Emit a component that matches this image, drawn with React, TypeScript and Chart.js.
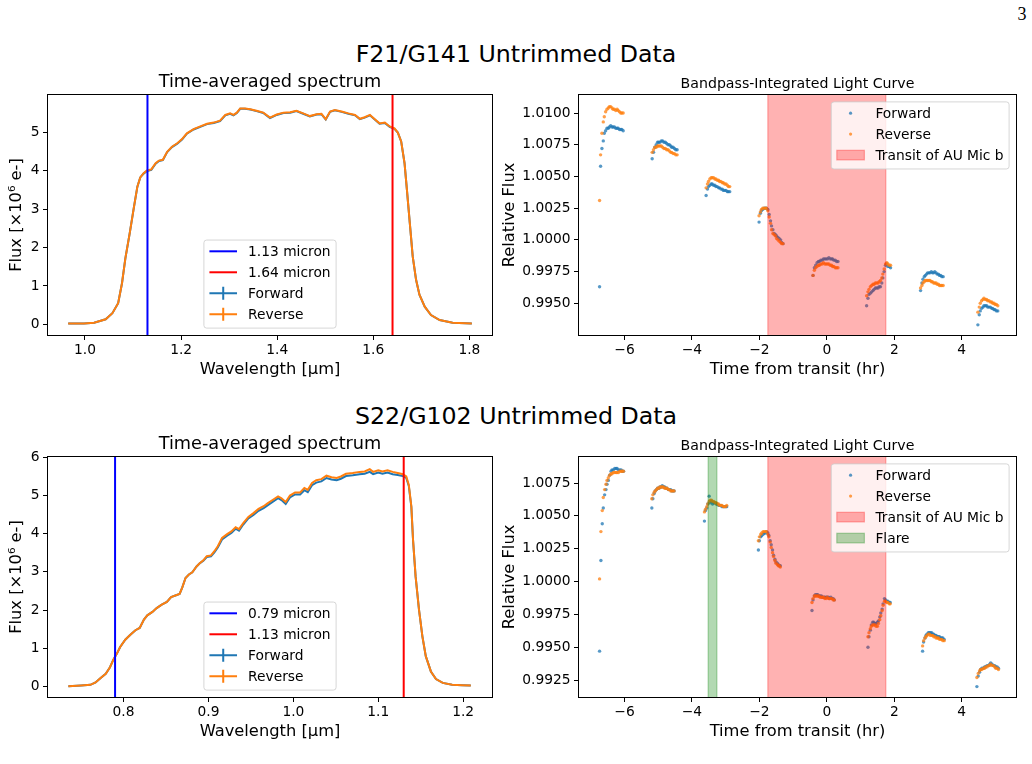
import React, { useEffect, useRef } from "react";
import { Chart, registerables } from "chart.js";

Chart.register(...registerables);

const FONT = "'DejaVu Sans', 'Noto Sans', sans-serif";
const BLUE = "#1f77b4";
const ORANGE = "#ff7f0e";
const BLUE_PT = "rgba(31,119,180,0.75)";
const ORANGE_PT = "rgba(255,127,14,0.75)";

// ---------------- F21 / G141 time-averaged spectrum ----------------
const G141_WAVELENGTH = [
  0.965, 0.998, 1.019, 1.043, 1.057, 1.069, 1.077, 1.084, 1.093, 1.102,
  1.109, 1.115, 1.122, 1.129, 1.138, 1.147, 1.154, 1.162, 1.171, 1.181,
  1.192, 1.202, 1.212, 1.226, 1.240, 1.254, 1.268, 1.281, 1.292, 1.302,
  1.309, 1.316, 1.323, 1.333, 1.344, 1.357, 1.371, 1.385, 1.399, 1.413,
  1.427, 1.440, 1.454, 1.468, 1.482, 1.492, 1.501, 1.510, 1.520, 1.534,
  1.548, 1.562, 1.572, 1.582, 1.593, 1.603, 1.613, 1.624, 1.634, 1.644,
  1.651, 1.658, 1.665, 1.670, 1.676, 1.682, 1.689, 1.696, 1.707, 1.720,
  1.738, 1.765, 1.805,
];
const G141_FORWARD = [
  0.02, 0.02, 0.04, 0.13, 0.29, 0.55, 1.07, 1.72, 2.37, 3.07,
  3.59, 3.83, 3.93, 4.00, 4.03, 4.19, 4.26, 4.28, 4.49, 4.62,
  4.71, 4.82, 4.97, 5.08, 5.15, 5.22, 5.25, 5.30, 5.45, 5.49,
  5.45, 5.51, 5.62, 5.62, 5.60, 5.56, 5.51, 5.38, 5.46, 5.51,
  5.52, 5.56, 5.49, 5.42, 5.47, 5.48, 5.34, 5.54, 5.58, 5.54,
  5.49, 5.45, 5.35, 5.39, 5.45, 5.34, 5.23, 5.25, 5.15, 5.10,
  5.00, 4.77, 4.20, 3.50, 2.63, 1.77, 1.16, 0.77, 0.46, 0.24,
  0.11, 0.04, 0.02,
];
const G141_REVERSE = [
  0.02, 0.02, 0.04, 0.13, 0.29, 0.55, 1.07, 1.72, 2.37, 3.07,
  3.59, 3.83, 3.94, 4.01, 4.04, 4.20, 4.27, 4.29, 4.50, 4.63,
  4.72, 4.83, 4.98, 5.09, 5.16, 5.23, 5.26, 5.31, 5.46, 5.50,
  5.46, 5.52, 5.63, 5.63, 5.61, 5.57, 5.52, 5.39, 5.47, 5.52,
  5.53, 5.57, 5.50, 5.43, 5.48, 5.49, 5.35, 5.55, 5.59, 5.55,
  5.50, 5.46, 5.36, 5.40, 5.46, 5.35, 5.24, 5.26, 5.16, 5.11,
  5.00, 4.77, 4.20, 3.50, 2.63, 1.77, 1.16, 0.77, 0.46, 0.24,
  0.11, 0.04, 0.02,
];
const G141_BAND = [1.13, 1.64];

// ---------------- S22 / G102 time-averaged spectrum ----------------
const G102_WAVELENGTH = [
  0.735, 0.750, 0.761, 0.767, 0.773, 0.779, 0.784, 0.788, 0.792, 0.796,
  0.802, 0.808, 0.814, 0.819, 0.824, 0.828, 0.834, 0.839, 0.845, 0.851,
  0.856, 0.861, 0.866, 0.869, 0.873, 0.877, 0.881, 0.886, 0.890, 0.894,
  0.898, 0.903, 0.907, 0.911, 0.916, 0.922, 0.927, 0.932, 0.936, 0.941,
  0.947, 0.953, 0.959, 0.965, 0.970, 0.976, 0.982, 0.986, 0.991, 0.996,
  1.002, 1.008, 1.013, 1.017, 1.022, 1.027, 1.033, 1.039, 1.045, 1.051,
  1.056, 1.062, 1.070, 1.078, 1.084, 1.090, 1.094, 1.100, 1.105, 1.111,
  1.117, 1.123, 1.129, 1.133, 1.136, 1.139, 1.141, 1.144, 1.148, 1.152,
  1.156, 1.162, 1.168, 1.176, 1.187, 1.199, 1.209,
];
const G102_FORWARD = [
  0.00, 0.02, 0.04, 0.10, 0.22, 0.33, 0.50, 0.70, 0.85, 1.03,
  1.22, 1.35, 1.47, 1.53, 1.75, 1.86, 1.95, 2.05, 2.14, 2.21,
  2.34, 2.38, 2.42, 2.58, 2.84, 2.93, 2.99, 3.14, 3.23, 3.29,
  3.39, 3.41, 3.51, 3.64, 3.85, 3.95, 4.02, 4.13, 4.08, 4.24,
  4.40, 4.49, 4.60, 4.67, 4.75, 4.84, 4.93, 4.88, 4.78, 4.95,
  5.03, 5.03, 5.14, 5.09, 5.27, 5.34, 5.37, 5.46, 5.42, 5.40,
  5.44, 5.51, 5.53, 5.56, 5.57, 5.62, 5.56, 5.60, 5.57, 5.60,
  5.56, 5.54, 5.51, 5.46, 5.25, 4.70, 3.83, 2.88, 2.01, 1.31,
  0.79, 0.39, 0.19, 0.09, 0.04, 0.03, 0.02,
];
const G102_REVERSE = [
  0.00, 0.02, 0.04, 0.10, 0.22, 0.33, 0.50, 0.70, 0.85, 1.03,
  1.22, 1.35, 1.47, 1.53, 1.75, 1.86, 1.95, 2.05, 2.14, 2.21,
  2.34, 2.38, 2.42, 2.58, 2.84, 2.93, 2.99, 3.14, 3.23, 3.30,
  3.41, 3.43, 3.54, 3.67, 3.89, 3.99, 4.06, 4.17, 4.12, 4.28,
  4.44, 4.54, 4.65, 4.72, 4.80, 4.89, 4.98, 4.93, 4.83, 5.00,
  5.08, 5.08, 5.20, 5.15, 5.33, 5.40, 5.43, 5.52, 5.48, 5.46,
  5.50, 5.57, 5.59, 5.62, 5.63, 5.69, 5.62, 5.66, 5.63, 5.66,
  5.62, 5.59, 5.56, 5.50, 5.28, 4.72, 3.84, 2.88, 2.01, 1.31,
  0.79, 0.39, 0.19, 0.09, 0.04, 0.03, 0.02,
];
const G102_BAND = [0.79, 1.13];

// ---------------- F21 bandpass-integrated light curve ----------------
const F21_TIME = [
  -6.74, -6.71, -6.67, -6.63, -6.60, -6.56, -6.52, -6.48, -6.45, -6.41, -6.37, -6.34, -6.30, -6.26, -6.22, -6.19, -6.15, -6.11, -6.08, -6.04,
  -5.18, -5.14, -5.10, -5.06, -5.02, -4.99, -4.95, -4.91, -4.87, -4.83, -4.79, -4.75, -4.71, -4.67, -4.63, -4.60, -4.56, -4.52, -4.48, -4.44,
  -3.58, -3.54, -3.51, -3.47, -3.43, -3.40, -3.36, -3.32, -3.29, -3.25, -3.21, -3.18, -3.14, -3.10, -3.07, -3.03, -2.99, -2.95, -2.92, -2.88,
  -2.01, -1.97, -1.94, -1.90, -1.86, -1.82, -1.79, -1.75, -1.71, -1.67, -1.64, -1.60, -1.56, -1.52, -1.49, -1.45, -1.41, -1.37, -1.34, -1.30,
  -0.41, -0.37, -0.33, -0.29, -0.25, -0.22, -0.18, -0.14, -0.10, -0.06, -0.02, 0.02, 0.06, 0.10, 0.14, 0.17, 0.21, 0.25, 0.29, 0.33,
  1.18, 1.22, 1.25, 1.29, 1.33, 1.37, 1.40, 1.44, 1.48, 1.52, 1.55, 1.59, 1.63, 1.66, 1.70, 1.74, 1.78, 1.81, 1.85, 1.89,
  2.78, 2.82, 2.85, 2.89, 2.92, 2.96, 2.99, 3.03, 3.06, 3.10, 3.13, 3.17, 3.20, 3.24, 3.27, 3.31, 3.34, 3.38, 3.41, 3.45,
  4.48, 4.52, 4.55, 4.59, 4.63, 4.66, 4.70, 4.74, 4.77, 4.81, 4.85, 4.89, 4.92, 4.96, 4.99, 5.03, 5.07,
];
const F21_FORWARD = [
  0.9963, 1.0058, 1.0072, 1.0078, 1.0084, 1.0086, 1.0088, 1.0088, 1.0089, 1.0090, 1.0089, 1.0089, 1.0089, 1.0088, 1.0088, 1.0088, 1.0087, 1.0087, 1.0087, 1.0086,
  1.0064, 1.0069, 1.0073, 1.0075, 1.0077, 1.0077, 1.0077, 1.0078, 1.0078, 1.0077, 1.0077, 1.0076, 1.0075, 1.0075, 1.0074, 1.0073, 1.0073, 1.0072, 1.0071, 1.0071,
  1.0035, 1.0040, 1.0042, 1.0043, 1.0044, 1.0044, 1.0043, 1.0043, 1.0042, 1.0042, 1.0041, 1.0041, 1.0040, 1.0040, 1.0039, 1.0039, 1.0039, 1.0038, 1.0038, 1.0038,
  1.0014, 1.0021, 1.0023, 1.0024, 1.0025, 1.0025, 1.0025, 1.0024, 1.0020, 1.0015, 1.0011, 1.0008, 1.0005, 1.0004, 1.0003, 1.0002, 1.0001, 1.0000, 0.9998, 0.9997,
  0.9972, 0.9978, 0.9980, 0.9982, 0.9983, 0.9983, 0.9984, 0.9984, 0.9985, 0.9985, 0.9985, 0.9985, 0.9986, 0.9985, 0.9985, 0.9985, 0.9984, 0.9984, 0.9983, 0.9983,
  0.9948, 0.9954, 0.9957, 0.9958, 0.9959, 0.9960, 0.9961, 0.9962, 0.9962, 0.9962, 0.9963, 0.9963, 0.9966, 0.9970, 0.9975, 0.9980, 0.9981, 0.9979, 0.9979, 0.9978,
  0.9960, 0.9966, 0.9969, 0.9971, 0.9972, 0.9973, 0.9974, 0.9974, 0.9974, 0.9975, 0.9974, 0.9974, 0.9975, 0.9974, 0.9973, 0.9973, 0.9972, 0.9972, 0.9971, 0.9971,
  0.9933, 0.9941, 0.9944, 0.9946, 0.9947, 0.9948, 0.9948, 0.9948, 0.9947, 0.9947, 0.9947, 0.9946, 0.9946, 0.9945, 0.9945, 0.9944, 0.9944,
];
const F21_REVERSE = [
  1.0031, 1.0067, 1.0084, 1.0093, 1.0097, 1.0101, 1.0103, 1.0104, 1.0105, 1.0105, 1.0104, 1.0103, 1.0103, 1.0102, 1.0103, 1.0102, 1.0101, 1.0100, 1.0100, 1.0100,
  1.0069, 1.0071, 1.0073, 1.0073, 1.0074, 1.0074, 1.0074, 1.0074, 1.0073, 1.0072, 1.0072, 1.0071, 1.0071, 1.0070, 1.0069, 1.0069, 1.0068, 1.0068, 1.0067, 1.0067,
  1.0041, 1.0044, 1.0046, 1.0048, 1.0049, 1.0049, 1.0049, 1.0048, 1.0048, 1.0047, 1.0047, 1.0046, 1.0046, 1.0045, 1.0045, 1.0044, 1.0044, 1.0043, 1.0042, 1.0042,
  1.0019, 1.0022, 1.0024, 1.0025, 1.0025, 1.0025, 1.0025, 1.0023, 1.0018, 1.0013, 1.0008, 1.0005, 1.0004, 1.0003, 1.0001, 1.0000, 0.9999, 0.9998, 0.9997, 0.9997,
  0.9972, 0.9976, 0.9978, 0.9979, 0.9980, 0.9980, 0.9981, 0.9981, 0.9982, 0.9981, 0.9981, 0.9981, 0.9981, 0.9980, 0.9980, 0.9979, 0.9979, 0.9978, 0.9978, 0.9978,
  0.9956, 0.9959, 0.9961, 0.9963, 0.9964, 0.9965, 0.9965, 0.9966, 0.9966, 0.9966, 0.9967, 0.9968, 0.9970, 0.9973, 0.9977, 0.9981, 0.9982, 0.9981, 0.9980, 0.9980,
  0.9962, 0.9964, 0.9966, 0.9967, 0.9968, 0.9968, 0.9968, 0.9968, 0.9968, 0.9967, 0.9967, 0.9966, 0.9966, 0.9966, 0.9965, 0.9965, 0.9964, 0.9964, 0.9964, 0.9964,
  0.9943, 0.9947, 0.9950, 0.9952, 0.9953, 0.9954, 0.9953, 0.9953, 0.9952, 0.9952, 0.9951, 0.9951, 0.9950, 0.9950, 0.9949, 0.9949, 0.9948,
];

// ---------------- S22 bandpass-integrated light curve ----------------
const S22_TIME = [
  -6.74, -6.70, -6.66, -6.63, -6.59, -6.55, -6.52, -6.48, -6.44, -6.40, -6.37, -6.33, -6.29, -6.25, -6.22, -6.18, -6.14, -6.10, -6.07, -6.03,
  -5.19, -5.16, -5.12, -5.09, -5.05, -5.02, -4.98, -4.95, -4.91, -4.88, -4.84, -4.81, -4.77, -4.74, -4.70, -4.67, -4.63, -4.60, -4.56, -4.53,
  -3.63, -3.60, -3.56, -3.53, -3.49, -3.46, -3.42, -3.39, -3.35, -3.32, -3.28, -3.25, -3.21, -3.18, -3.14, -3.11, -3.07, -3.04, -3.00, -2.97,
  -2.03, -2.00, -1.96, -1.93, -1.89, -1.86, -1.82, -1.79, -1.75, -1.72, -1.68, -1.65, -1.61, -1.58, -1.54, -1.51, -1.47, -1.44, -1.41, -1.38,
  -0.44, -0.41, -0.37, -0.34, -0.30, -0.27, -0.23, -0.20, -0.16, -0.13, -0.09, -0.06, -0.02, 0.01, 0.05, 0.08, 0.12, 0.15, 0.19, 0.22,
  1.22, 1.25, 1.29, 1.32, 1.36, 1.39, 1.43, 1.46, 1.50, 1.53, 1.57, 1.60, 1.64, 1.67, 1.71, 1.74, 1.78, 1.81, 1.85, 1.88,
  2.84, 2.87, 2.91, 2.94, 2.97, 3.01, 3.04, 3.07, 3.11, 3.14, 3.17, 3.21, 3.24, 3.28, 3.31, 3.34, 3.38, 3.41, 3.44, 3.48,
  4.45, 4.49, 4.53, 4.56, 4.60, 4.64, 4.68, 4.71, 4.75, 4.79, 4.83, 4.86, 4.90, 4.94, 4.98, 5.01, 5.05, 5.09,
];
const S22_FORWARD = [
  0.9947, 1.0016, 1.0044, 1.0056, 1.0066, 1.0070, 1.0074, 1.0077, 1.0081, 1.0084, 1.0085, 1.0085, 1.0086, 1.0086, 1.0086, 1.0085, 1.0085, 1.0085, 1.0084, 1.0084,
  1.0056, 1.0063, 1.0067, 1.0069, 1.0070, 1.0071, 1.0071, 1.0072, 1.0072, 1.0073, 1.0072, 1.0072, 1.0071, 1.0071, 1.0070, 1.0070, 1.0070, 1.0069, 1.0069, 1.0069,
  1.0046, 1.0054, 1.0056, 1.0059, 1.0065, 1.0060, 1.0061, 1.0059, 1.0060, 1.0060, 1.0059, 1.0059, 1.0058, 1.0058, 1.0058, 1.0057, 1.0057, 1.0057, 1.0057, 1.0057,
  1.0024, 1.0031, 1.0034, 1.0035, 1.0036, 1.0037, 1.0037, 1.0038, 1.0037, 1.0035, 1.0031, 1.0028, 1.0024, 1.0020, 1.0017, 1.0015, 1.0014, 1.0013, 1.0012, 1.0012,
  0.9978, 0.9986, 0.9989, 0.9990, 0.9990, 0.9990, 0.9989, 0.9989, 0.9989, 0.9988, 0.9988, 0.9988, 0.9988, 0.9988, 0.9988, 0.9987, 0.9988, 0.9987, 0.9987, 0.9986,
  0.9950, 0.9958, 0.9963, 0.9967, 0.9969, 0.9969, 0.9968, 0.9968, 0.9969, 0.9970, 0.9973, 0.9976, 0.9979, 0.9983, 0.9987, 0.9986, 0.9985, 0.9985, 0.9984, 0.9984,
  0.9947, 0.9954, 0.9957, 0.9959, 0.9960, 0.9961, 0.9961, 0.9961, 0.9961, 0.9960, 0.9960, 0.9959, 0.9959, 0.9958, 0.9958, 0.9958, 0.9957, 0.9957, 0.9957, 0.9956,
  0.9920, 0.9928, 0.9931, 0.9933, 0.9934, 0.9934, 0.9935, 0.9935, 0.9936, 0.9936, 0.9937, 0.9938, 0.9937, 0.9936, 0.9936, 0.9935, 0.9935, 0.9934,
];
const S22_REVERSE = [
  1.0002, 1.0038, 1.0054, 1.0064, 1.0070, 1.0074, 1.0077, 1.0079, 1.0081, 1.0082, 1.0082, 1.0083, 1.0083, 1.0083, 1.0083, 1.0083, 1.0084, 1.0084, 1.0084, 1.0084,
  1.0063, 1.0066, 1.0068, 1.0069, 1.0070, 1.0071, 1.0071, 1.0072, 1.0072, 1.0072, 1.0072, 1.0071, 1.0071, 1.0071, 1.0070, 1.0070, 1.0069, 1.0069, 1.0069, 1.0069,
  1.0053, 1.0055, 1.0057, 1.0059, 1.0061, 1.0062, 1.0062, 1.0061, 1.0061, 1.0060, 1.0060, 1.0059, 1.0059, 1.0058, 1.0058, 1.0058, 1.0057, 1.0057, 1.0057, 1.0058,
  1.0031, 1.0034, 1.0036, 1.0037, 1.0038, 1.0038, 1.0038, 1.0038, 1.0036, 1.0034, 1.0030, 1.0026, 1.0022, 1.0019, 1.0016, 1.0014, 1.0013, 1.0012, 1.0012, 1.0011,
  0.9984, 0.9987, 0.9989, 0.9989, 0.9989, 0.9989, 0.9989, 0.9988, 0.9988, 0.9988, 0.9988, 0.9987, 0.9987, 0.9988, 0.9987, 0.9987, 0.9987, 0.9987, 0.9986, 0.9986,
  0.9958, 0.9961, 0.9964, 0.9966, 0.9967, 0.9967, 0.9967, 0.9966, 0.9966, 0.9968, 0.9971, 0.9974, 0.9978, 0.9982, 0.9985, 0.9985, 0.9984, 0.9984, 0.9983, 0.9983,
  0.9951, 0.9955, 0.9957, 0.9958, 0.9959, 0.9960, 0.9960, 0.9959, 0.9959, 0.9959, 0.9958, 0.9958, 0.9957, 0.9957, 0.9957, 0.9956, 0.9956, 0.9956, 0.9955, 0.9955,
  0.9927, 0.9930, 0.9932, 0.9933, 0.9933, 0.9934, 0.9934, 0.9935, 0.9935, 0.9936, 0.9936, 0.9937, 0.9936, 0.9936, 0.9935, 0.9934, 0.9934, 0.9933,
];

const TRANSIT_WINDOW = [-1.75, 1.75];
const FLARE_WINDOW = [-3.52, -3.26];

// ---------------- ticks ----------------
const G141_X_TICKS = [1.0, 1.2, 1.4, 1.6, 1.8];
const G141_X_LABELS = ["1.0", "1.2", "1.4", "1.6", "1.8"];
const G141_Y_TICKS = [0, 1, 2, 3, 4, 5];
const G141_Y_LABELS = ["0", "1", "2", "3", "4", "5"];
const G102_X_TICKS = [0.8, 0.9, 1.0, 1.1, 1.2];
const G102_X_LABELS = ["0.8", "0.9", "1.0", "1.1", "1.2"];
const G102_Y_TICKS = [0, 1, 2, 3, 4, 5, 6];
const G102_Y_LABELS = ["0", "1", "2", "3", "4", "5", "6"];
const LC_X_TICKS = [-6, -4, -2, 0, 2, 4];
const LC_X_LABELS = ["\u22126", "\u22124", "\u22122", "0", "2", "4"];
const F21_Y_TICKS = [0.995, 0.9975, 1.0, 1.0025, 1.005, 1.0075, 1.01];
const F21_Y_LABELS = ["0.9950", "0.9975", "1.0000", "1.0025", "1.0050", "1.0075", "1.0100"];
const S22_Y_TICKS = [0.9925, 0.995, 0.9975, 1.0, 1.0025, 1.005, 1.0075];
const S22_Y_LABELS = ["0.9925", "0.9950", "0.9975", "1.0000", "1.0025", "1.0050", "1.0075"];

// ---------------- decoration plugin (spans, frame, legend) ----------------
const decorPlugin: any = {
  id: "mplDecor",
  afterDatasetsDraw(chart: any, _args: any, opts: any) {
    const { ctx, chartArea: a, scales } = chart;
    const spans = (opts && opts.spans) || [];
    ctx.save();
    ctx.beginPath();
    ctx.rect(a.left, a.top, a.right - a.left, a.bottom - a.top);
    ctx.clip();
    for (const s of spans) {
      const x0 = scales.x.getPixelForValue(s.from);
      const x1 = scales.x.getPixelForValue(s.to);
      ctx.fillStyle = s.fill;
      ctx.fillRect(x0, a.top, x1 - x0, a.bottom - a.top);
      ctx.strokeStyle = s.fill;
      ctx.lineWidth = 1.2;
      ctx.beginPath();
      ctx.moveTo(x0, a.top);
      ctx.lineTo(x0, a.bottom);
      ctx.moveTo(x1, a.top);
      ctx.lineTo(x1, a.bottom);
      ctx.stroke();
    }
    ctx.restore();
  },
  afterDraw(chart: any, _args: any, opts: any) {
    const { ctx, chartArea: a } = chart;
    ctx.save();
    // frame
    ctx.strokeStyle = "#000";
    ctx.lineWidth = 1;
    const L = Math.round(a.left) - 0.5;
    const T = Math.round(a.top) - 0.5;
    const R = Math.round(a.right) + 0.5;
    const B = Math.round(a.bottom) + 0.5;
    ctx.strokeRect(L, T, R - L, B - T);

    const lg = opts && opts.legend;
    if (lg) {
      const fs = 13.8;
      ctx.font = `${fs}px ${FONT}`;
      const pad = 0.4 * fs;
      const hl = 2 * fs;
      const htp = 0.8 * fs;
      const gap = 0.5 * fs;
      const rowH = 1.02 * fs;
      const items = lg.items;
      let tw = 0;
      for (const it of items) tw = Math.max(tw, ctx.measureText(it.label).width);
      const w = 2 * pad + hl + htp + tw;
      const h = 2 * pad + items.length * rowH + (items.length - 1) * gap;
      let bx: number, by: number;
      if (lg.loc === "upper right") {
        bx = a.right - 0.5 * fs - w;
        by = a.top + 0.5 * fs;
      } else {
        bx = (a.left + a.right) / 2 - w / 2;
        by = a.bottom - 0.5 * fs - h;
      }
      const r = 0.2 * fs;
      ctx.beginPath();
      ctx.moveTo(bx + r, by);
      ctx.lineTo(bx + w - r, by);
      ctx.arcTo(bx + w, by, bx + w, by + r, r);
      ctx.lineTo(bx + w, by + h - r);
      ctx.arcTo(bx + w, by + h, bx + w - r, by + h, r);
      ctx.lineTo(bx + r, by + h);
      ctx.arcTo(bx, by + h, bx, by + h - r, r);
      ctx.lineTo(bx, by + r);
      ctx.arcTo(bx, by, bx + r, by, r);
      ctx.closePath();
      ctx.fillStyle = "rgba(255,255,255,0.8)";
      ctx.fill();
      ctx.strokeStyle = "rgba(204,204,204,0.8)";
      ctx.lineWidth = 1;
      ctx.stroke();

      items.forEach((it: any, i: number) => {
        const rowTop = by + pad + i * (rowH + gap);
        const base = rowTop + 0.78 * fs;
        const cy = base - 0.365 * fs;
        const x0 = bx + pad;
        const x1 = x0 + hl;
        const xc = (x0 + x1) / 2;
        if (it.kind === "line" || it.kind === "errorbar") {
          ctx.strokeStyle = it.color;
          ctx.lineWidth = 2;
          ctx.beginPath();
          ctx.moveTo(x0, cy);
          ctx.lineTo(x1, cy);
          if (it.kind === "errorbar") {
            ctx.moveTo(xc, cy - 6.6);
            ctx.lineTo(xc, cy + 6.6);
          }
          ctx.stroke();
        } else if (it.kind === "dot") {
          ctx.fillStyle = it.color;
          ctx.beginPath();
          ctx.arc(xc, cy, 1.6, 0, Math.PI * 2);
          ctx.fill();
        } else if (it.kind === "patch") {
          const ph = 0.7 * fs;
          ctx.fillStyle = it.color;
          ctx.fillRect(x0, cy - ph / 2, hl, ph);
          ctx.strokeStyle = it.color;
          ctx.lineWidth = 1.2;
          ctx.strokeRect(x0, cy - ph / 2, hl, ph);
        }
        ctx.fillStyle = "#000";
        ctx.textAlign = "left";
        ctx.textBaseline = "alphabetic";
        ctx.fillText(it.label, x1 + htp, base);
      });
    }
    ctx.restore();
  },
};

// ---------------- axis helpers ----------------
const TICK_FONT = { family: FONT, size: 13.8, lineHeight: 1.2 };
const LABEL_FONT = { family: FONT, size: 16.3, lineHeight: 1.2 };

function axis(o: any) {
  return {
    type: "linear",
    min: o.min,
    max: o.max,
    border: { display: false },
    grid: {
      display: true,
      drawOnChartArea: false,
      drawTicks: true,
      tickLength: 5,
      color: "#000",
      lineWidth: 1,
    },
    ticks: {
      autoSkip: false,
      maxRotation: 0,
      minRotation: 0,
      color: "#000",
      font: TICK_FONT,
      padding: o.tickPad,
      callback: (_v: any, i: number) => o.labels[i],
    },
    afterBuildTicks: (scale: any) => {
      scale.ticks = o.ticks.map((v: number) => ({ value: v }));
    },
    afterFit: o.afterFit,
    title: {
      display: true,
      text: o.title,
      color: "#000",
      font: LABEL_FONT,
      padding: o.titlePad,
    },
  };
}

function baseOptions(p: any) {
  return {
    responsive: false,
    animation: false,
    devicePixelRatio: 1,
    events: [],
    layout: { padding: 0 },
    plugins: {
      legend: { display: false },
      tooltip: { enabled: false },
      title: {
        display: true,
        text: p.title,
        color: "#000",
        font: { family: FONT, size: p.titleSize, weight: "normal", lineHeight: 1.2 },
        padding: p.titlePad,
      },
      mplDecor: { spans: p.spans, legend: p.legend },
    },
    scales: {
      x: axis({
        min: p.xMin,
        max: p.xMax,
        ticks: p.xTicks,
        labels: p.xLabels,
        tickPad: 2,
        title: p.xTitle,
        titlePad: { top: 0, bottom: 10.8 },
        afterFit: (s: any) => {
          s.height = 55;
        },
      }),
      y: axis({
        min: p.yMin,
        max: p.yMax,
        ticks: p.yTicks,
        labels: p.yLabels,
        tickPad: 3.5,
        title: p.yTitle,
        titlePad: { top: p.yTitlePad, bottom: 0 },
        afterFit: (s: any) => {
          s.width = p.yAxisWidth;
        },
      }),
      // empty right-hand spacer so the axes title is centred over the plot area
      spacer: {
        type: "linear",
        position: "right",
        display: true,
        min: 0,
        max: 1,
        border: { display: false },
        grid: { display: false, drawTicks: false },
        ticks: { display: false },
        title: { display: false },
        afterFit: (s: any) => {
          s.width = p.yAxisWidth;
        },
      },
    },
  };
}

function spectrumConfig(p: any) {
  const pts = (xs: number[], ys: number[]) => xs.map((x, i) => ({ x, y: ys[i] }));
  return {
    type: "scatter",
    data: {
      datasets: [
        {
          label: `${p.band[0].toFixed(2)} micron`,
          data: [{ x: p.band[0], y: -100 }, { x: p.band[0], y: 100 }],
          showLine: true,
          borderColor: "#0000ff",
          borderWidth: 2,
          pointRadius: 0,
          order: 0,
        },
        {
          label: `${p.band[1].toFixed(2)} micron`,
          data: [{ x: p.band[1], y: -100 }, { x: p.band[1], y: 100 }],
          showLine: true,
          borderColor: "#ff0000",
          borderWidth: 2,
          pointRadius: 0,
          order: 1,
        },
        {
          label: "Reverse",
          data: pts(p.wl, p.rev),
          showLine: true,
          borderColor: ORANGE,
          borderWidth: 2,
          pointRadius: 0,
          order: 2,
        },
        {
          label: "Forward",
          data: pts(p.wl, p.fwd),
          showLine: true,
          borderColor: BLUE,
          borderWidth: 2,
          pointRadius: 0,
          order: 3,
        },
      ],
    },
    options: baseOptions({
      ...p,
      title: "Time-averaged spectrum",
      titleSize: 17.7,
      titlePad: { top: 12.0, bottom: 1.76 },
      xTitle: "Wavelength [\u03bcm]",
      yTitle: "Flux [\u00d710\u2076 e-]",
      yTitlePad: 6.8,
      yAxisWidth: 48,
      spans: [],
      legend: {
        loc: "lower center",
        items: [
          { label: `${p.band[0].toFixed(2)} micron`, kind: "line", color: "#0000ff" },
          { label: `${p.band[1].toFixed(2)} micron`, kind: "line", color: "#ff0000" },
          { label: "Forward", kind: "errorbar", color: BLUE },
          { label: "Reverse", kind: "errorbar", color: ORANGE },
        ],
      },
    }),
    plugins: [decorPlugin],
  };
}

function lightCurveConfig(p: any) {
  const pts = (xs: number[], ys: number[]) => xs.map((x, i) => ({ x, y: ys[i] }));
  const spans = [
    { from: TRANSIT_WINDOW[0], to: TRANSIT_WINDOW[1], fill: "rgba(255,0,0,0.3)" },
  ];
  const items: any[] = [
    { label: "Forward", kind: "dot", color: BLUE_PT },
    { label: "Reverse", kind: "dot", color: ORANGE_PT },
    { label: "Transit of AU Mic b", kind: "patch", color: "rgba(255,0,0,0.3)" },
  ];
  if (p.flare) {
    spans.push({ from: p.flare[0], to: p.flare[1], fill: "rgba(0,128,0,0.3)" });
    items.push({ label: "Flare", kind: "patch", color: "rgba(0,128,0,0.3)" });
  }
  return {
    type: "scatter",
    data: {
      datasets: [
        {
          label: "Reverse",
          data: pts(p.time, p.rev),
          backgroundColor: ORANGE_PT,
          borderWidth: 0,
          pointRadius: 1.7,
          order: 0,
        },
        {
          label: "Forward",
          data: pts(p.time, p.fwd),
          backgroundColor: BLUE_PT,
          borderWidth: 0,
          pointRadius: 1.7,
          order: 1,
        },
      ],
    },
    options: baseOptions({
      ...p,
      xMin: -7.35,
      xMax: 5.61,
      xTicks: LC_X_TICKS,
      xLabels: LC_X_LABELS,
      title: "Bandpass-Integrated Light Curve",
      titleSize: 14.15,
      titlePad: { top: 16.3, bottom: 1.72 },
      xTitle: "Time from transit (hr)",
      yTitle: "Relative Flux",
      yTitlePad: 4.6,
      yAxisWidth: 84,
      spans,
      legend: { loc: "upper right", items },
    }),
    plugins: [decorPlugin],
  };
}

function Panel(props: { left: number; top: number; width: number; height: number; make: () => any }) {
  const ref = useRef<HTMLCanvasElement | null>(null);
  useEffect(() => {
    const chart = new Chart(ref.current as HTMLCanvasElement, props.make());
    return () => chart.destroy();
  }, []);
  return (
    <canvas
      ref={ref}
      width={props.width}
      height={props.height}
      style={{
        position: "absolute",
        left: props.left,
        top: props.top,
        width: props.width,
        height: props.height,
      }}
    />
  );
}

const supStyle = (top: number): React.CSSProperties => ({
  position: "absolute",
  left: 0,
  top,
  width: 1032,
  textAlign: "center",
  fontFamily: FONT,
  fontSize: 23.7,
  lineHeight: 1,
  color: "#000",
  whiteSpace: "nowrap",
});

export default function App() {
  return (
    <div
      style={{
        position: "absolute",
        left: 0,
        top: 0,
        width: 1032,
        height: 764,
        overflow: "hidden",
        background: "#fff",
      }}
    >
      <div
        style={{
          position: "absolute",
          left: 1010,
          top: 5,
          width: 24,
          textAlign: "center",
          fontFamily: "'Liberation Serif', 'DejaVu Serif', serif",
          fontSize: 18,
          lineHeight: 1,
          color: "#000",
        }}
      >
        3
      </div>
      <div style={supStyle(43)}>F21/G141 Untrimmed Data</div>
      <div style={supStyle(405)}>S22/G102 Untrimmed Data</div>

      <Panel
        left={0}
        top={60}
        width={540}
        height={330}
        make={() =>
          spectrumConfig({
            wl: G141_WAVELENGTH,
            fwd: G141_FORWARD,
            rev: G141_REVERSE,
            band: G141_BAND,
            xMin: 0.923,
            xMax: 1.847,
            yMin: -0.28,
            yMax: 5.98,
            xTicks: G141_X_TICKS,
            xLabels: G141_X_LABELS,
            yTicks: G141_Y_TICKS,
            yLabels: G141_Y_LABELS,
          })
        }
      />
      <Panel
        left={495}
        top={60}
        width={605}
        height={330}
        make={() =>
          lightCurveConfig({
            time: F21_TIME,
            fwd: F21_FORWARD,
            rev: F21_REVERSE,
            yMin: 0.9925,
            yMax: 1.01142,
            yTicks: F21_Y_TICKS,
            yLabels: F21_Y_LABELS,
          })
        }
      />
      <Panel
        left={0}
        top={422}
        width={540}
        height={330}
        make={() =>
          spectrumConfig({
            wl: G102_WAVELENGTH,
            fwd: G102_FORWARD,
            rev: G102_REVERSE,
            band: G102_BAND,
            xMin: 0.711,
            xMax: 1.234,
            yMin: -0.28,
            yMax: 6.01,
            xTicks: G102_X_TICKS,
            xLabels: G102_X_LABELS,
            yTicks: G102_Y_TICKS,
            yLabels: G102_Y_LABELS,
          })
        }
      />
      <Panel
        left={495}
        top={422}
        width={605}
        height={330}
        make={() =>
          lightCurveConfig({
            time: S22_TIME,
            fwd: S22_FORWARD,
            rev: S22_REVERSE,
            flare: FLARE_WINDOW,
            yMin: 0.99121,
            yMax: 1.00948,
            yTicks: S22_Y_TICKS,
            yLabels: S22_Y_LABELS,
          })
        }
      />
    </div>
  );
}
